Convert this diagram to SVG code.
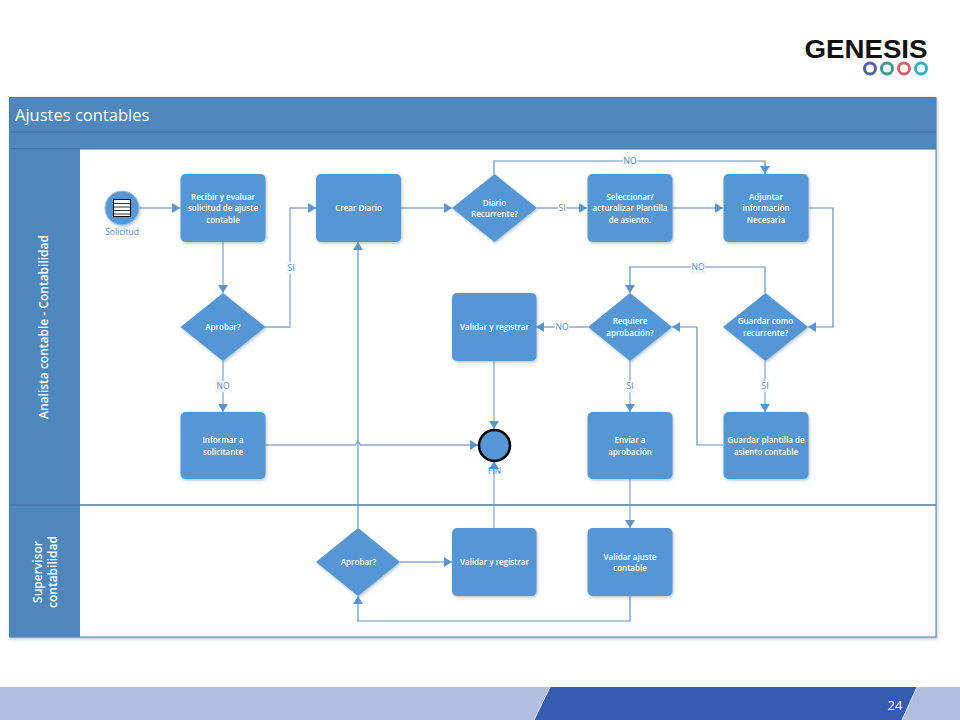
<svg xmlns="http://www.w3.org/2000/svg" width="960" height="720" viewBox="0 0 960 720">
<defs>
<marker id="arr" markerUnits="userSpaceOnUse" markerWidth="9" markerHeight="10" refX="8" refY="5" orient="auto"><path d="M0 0L8 5L0 10Z" fill="#5b93cc"/></marker>
<filter id="sh" x="-10%" y="-10%" width="125%" height="125%"><feDropShadow dx="1" dy="1.5" stdDeviation="1.5" flood-color="#4a6a8a" flood-opacity="0.4"/></filter>
</defs>
<style>
.n{fill:#5596d4;filter:url(#sh)}
.t{font:600 8px "Open Sans","Liberation Sans",sans-serif;fill:#fff;text-anchor:middle}
.c{fill:none;stroke:#8aa9cb;stroke-width:1.3;marker-end:url(#arr)}
.d{fill:none;stroke:#5b8fc4;stroke-width:1.2;marker-end:url(#arr)}
.lb{fill:#fff;stroke:#dfe8f2;stroke-width:.6}
.lt{font:8.5px "Open Sans","Liberation Sans",sans-serif;fill:#4f86bd;text-anchor:middle}
.lane{font:600 12px "Open Sans","Liberation Sans",sans-serif;fill:#fff;text-anchor:middle}
</style>
<rect width="960" height="720" fill="#fff"/>
<g id="logo">
<text x="866" y="58" font-family="'Liberation Sans',sans-serif" font-weight="700" font-size="26" fill="#111" text-anchor="middle" textLength="123" lengthAdjust="spacingAndGlyphs">GENESIS</text>
<g fill="none" stroke-width="3"><circle cx="870" cy="68.500" r="5.500" stroke="#4f62a5"/><circle cx="887" cy="68.500" r="5.500" stroke="#3d9a8e"/><circle cx="904" cy="68.500" r="5.500" stroke="#d9606e"/><circle cx="921" cy="68.500" r="5.500" stroke="#2fb1c0"/></g>
</g>
<g id="pool">
<rect x="9.500" y="97.500" width="926.500" height="539.500" fill="#fff" stroke="#4a7fb0" stroke-width="1" filter="url(#sh)"/>
<rect x="10" y="98" width="926" height="51" fill="#4f87bd"/>
<path d="M10 132H936" stroke="#41719f" stroke-width="1"/>
<path d="M10 149H936" stroke="#3f6f9f" stroke-width="1"/>
<rect x="10" y="149" width="70" height="488" fill="#4f87bd"/>
<path d="M10 505H936" stroke="#4a78a8" stroke-width="1.500"/>
<text x="15" y="120.500" font-family="'Open Sans','Liberation Sans',sans-serif" font-size="16.500" fill="#fff">Ajustes contables</text>
<text class="lane" transform="translate(48,327) rotate(-90)">Analista contable - Contabilidad</text>
<text class="lane" transform="translate(42,572) rotate(-90)">Supervisor</text>
<text class="lane" transform="translate(57,572) rotate(-90)">contabilidad</text>
</g>
<g id="connectors">
<path class="c" d="M139 208H180"/>
<path class="c" d="M223 242V293"/>
<path class="c" d="M265 327H290V208H316"/>
<path class="c" d="M223 361V412"/>
<path class="c" d="M401 208H452"/>
<path class="c" d="M537 208H587"/>
<path class="d" d="M494 174V161H765V174"/>
<path class="c" d="M672 208H723"/>
<path class="d" d="M808 208H833V327H808"/>
<path class="d" d="M765 293V267H630V293"/>
<path class="c" d="M588 327H536"/>
<path class="c" d="M630 361V412"/>
<path class="c" d="M765 361V412"/>
<path class="d" d="M723 445H697V327H672"/>
<path class="c" d="M265 445H355.500Q358 439 360.500 445H478"/>
<path class="d" d="M358 528V242"/>
<path class="c" d="M494 361V429"/>
<path class="c" d="M494 528V461"/>
<path class="c" d="M630 479V528"/>
<path class="c" d="M400 562H452"/>
<path class="d" d="M630 596V621H358V596"/>
</g>
<g id="labels">
<rect class="lb" x="287" y="262" width="8" height="12"/><text class="lt" x="291" y="271">SI</text>
<rect class="lb" x="216" y="381" width="14" height="11"/><text class="lt" x="223" y="389">NO</text>
<rect class="lb" x="558" y="202" width="8" height="12"/><text class="lt" x="562" y="211">SI</text>
<rect class="lb" x="623" y="156" width="14" height="11"/><text class="lt" x="630" y="164">NO</text>
<rect class="lb" x="691" y="262" width="14" height="11"/><text class="lt" x="698" y="270">NO</text>
<rect class="lb" x="555" y="321" width="14" height="11"/><text class="lt" x="562" y="329.500">NO</text>
<rect class="lb" x="626" y="381" width="8" height="11"/><text class="lt" x="630" y="389">SI</text>
<rect class="lb" x="761" y="381" width="8" height="11"/><text class="lt" x="765" y="389">SI</text>
</g>
<g id="n-solicitud">
<circle cx="122" cy="208" r="17" fill="#5596d4" stroke="#a8c4e0" filter="url(#sh)"/>
<rect x="113.500" y="199.500" width="17" height="17" fill="#fff" stroke="#000" stroke-width="1"/>
<path d="M114 203.500H130M114 207H130M114 210.500H130M114 214H130" stroke="#333" stroke-width="1"/>
<text class="lt" x="122" y="235">Solicitud</text>
</g>
<g id="n-recibir"><rect class="n" x="180.500" y="174" width="85" height="68" rx="5"/><text class="t" x="223" y="200">Recibir y evaluar</text><text class="t" x="223" y="211">solicitud de ajuste</text><text class="t" x="223" y="223">contable</text></g>
<g id="n-crear"><rect class="n" x="316" y="174" width="85" height="68" rx="5"/><text class="t" x="358.500" y="211">Crear Diario</text></g>
<g id="n-diario"><polygon class="n" points="494.500,174 537,208 494.500,242 452,208"/><text class="t" x="494.500" y="206">Diario</text><text class="t" x="494.500" y="217">Recurrente?</text></g>
<g id="n-seleccionar"><rect class="n" x="587.500" y="174" width="85" height="68" rx="5"/><text class="t" x="630" y="200">Seleccionar/</text><text class="t" x="630" y="211">acturalizar Plantilla</text><text class="t" x="630" y="223">de asiento.</text></g>
<g id="n-adjuntar"><rect class="n" x="723.500" y="174" width="85" height="68" rx="5"/><text class="t" x="766" y="200">Adjuntar</text><text class="t" x="766" y="211">información</text><text class="t" x="766" y="223">Necesaria</text></g>
<g id="n-aprobar1"><polygon class="n" points="223,293 265.500,327 223,361 180.500,327"/><text class="t" x="223" y="329.500">Aprobar?</text></g>
<g id="n-validar1"><rect class="n" x="452" y="293" width="84.500" height="68" rx="5"/><text class="t" x="494.500" y="330">Validar y registrar</text></g>
<g id="n-requiere"><polygon class="n" points="630,293 672,327 630,361 588,327"/><text class="t" x="630" y="324">Requiere</text><text class="t" x="630" y="336">aprobación?</text></g>
<g id="n-guardar"><polygon class="n" points="765.500,293 808,327 765.500,361 723,327"/><text class="t" x="765.500" y="324">Guardar como</text><text class="t" x="765.500" y="336">recurrente?</text></g>
<g id="n-informar"><rect class="n" x="180.500" y="412" width="85" height="67" rx="5"/><text class="t" x="223" y="443">Informar a</text><text class="t" x="223" y="455">solicitante</text></g>
<g id="n-fin"><circle cx="494.500" cy="445.500" r="15.500" fill="#5596d4" stroke="#000" stroke-width="2.500"/><text class="lt" x="494.500" y="474">FIN</text></g>
<g id="n-enviar"><rect class="n" x="587.500" y="412" width="85" height="67" rx="5"/><text class="t" x="630" y="443">Enviar a</text><text class="t" x="630" y="455">aprobación</text></g>
<g id="n-plantilla"><rect class="n" x="723.500" y="412" width="85" height="67" rx="5"/><text class="t" x="766" y="443">Guardar plantilla de</text><text class="t" x="766" y="455">asiento contable</text></g>
<g id="n-aprobar2"><polygon class="n" points="358,528 400,562 358,596 316,562"/><text class="t" x="358.500" y="565">Aprobar?</text></g>
<g id="n-validar2"><rect class="n" x="452" y="528" width="84.500" height="68" rx="5"/><text class="t" x="494.500" y="565">Validar y registrar</text></g>
<g id="n-validaajuste"><rect class="n" x="587.500" y="528" width="85" height="68" rx="5"/><text class="t" x="630" y="560">Validar ajuste</text><text class="t" x="630" y="571">contable</text></g>
<g id="footer">
<rect x="0" y="687" width="960" height="33" fill="#b0bfe0"/>
<polygon points="550,687 917,687 902,720 534,720" fill="#335db0"/>
<path d="M550 687L534 720M917 687L902 720" stroke="#e4eaf5" stroke-width="1"/>
<text x="895" y="710" font-family="'Open Sans','Liberation Sans',sans-serif" font-size="13" fill="#fff" text-anchor="middle">24</text>
</g>
</svg>
